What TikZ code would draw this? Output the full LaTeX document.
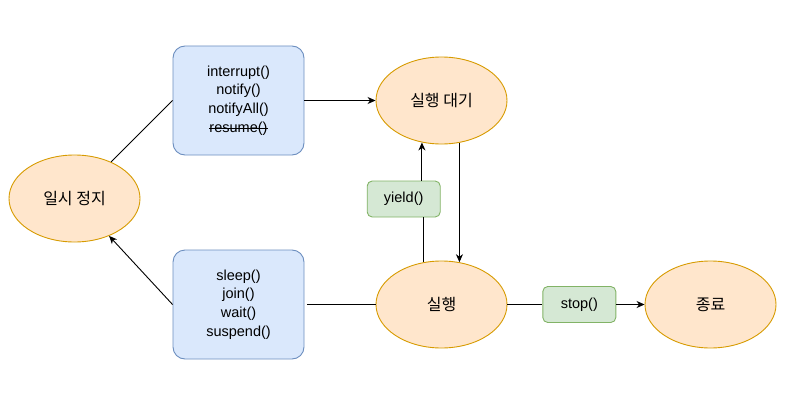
\documentclass[tikz,border=0pt]{standalone}
\usepackage{fontspec}
\setmainfont{Liberation Sans}
\newfontfamily\kr{Noto Sans CJK KR}
\usepackage{xcolor}
\usepackage{tikz}
\usetikzlibrary{arrows.meta,shapes.geometric}

\definecolor{statefill}{HTML}{FFE6CC}
\definecolor{stateline}{HTML}{D79B00}
\definecolor{callfill}{HTML}{DAE8FC}
\definecolor{callline}{HTML}{6C8EBF}
\definecolor{opfill}{HTML}{D5E8D4}
\definecolor{opline}{HTML}{82B366}

\newcommand{\crossout}[1]{\leavevmode\setbox0=\hbox{#1}%
  \rlap{\rule[0.5ex]{\wd0}{0.8pt}}\box0}

\begin{document}
\begin{tikzpicture}[x=1pt,y=-1pt,line width=0.9pt,
    >={Stealth[length=8pt,width=7pt,inset=2.5pt]},
    every node/.style={font=\fontsize{14.5}{18.7}\selectfont},
    state/.style={ellipse,draw=stateline,fill=statefill,
      minimum width=131pt,minimum height=87pt,inner sep=0pt,
      font=\kr\fontsize{16}{19}\selectfont},
    calls/.style={draw=callline,fill=callfill,rounded corners=12pt,
      minimum width=131pt,minimum height=109pt,align=center},
    op/.style={draw=opline,fill=opfill,rounded corners=5pt,
      minimum width=73pt,minimum height=36pt}]
      \useasboundingbox (0,0) rectangle (800,412);
      \node[state] (pause) at (74.5,198.5) {일시 정지};
      \node[state] (ready) at (441.5,100.5) {실행 대기};
      \node[state] (running) at (441.5,304.5) {실행};
      \node[state] (halt) at (710.5,304.5) {종료};
      \node[calls] (wakeups) at (238.5,100.5)
        {interrupt()\\notify()\\notifyAll()\\\crossout{resume()}};
      \node[calls] (sleeps) at (238.5,304.5)
        {sleep()\\join()\\wait()\\suspend()};
      \node[op] (yield) at (403.7,199) {yield()};
      \node[op] (stop) at (579.3,304.5) {stop()};

      \draw (pause) -- (wakeups.west);
      \draw[->] (wakeups.east) -- (ready.west);
      \draw[->] (sleeps.west) -- (pause);
      \draw (running.west) -- ([xshift=3pt]sleeps.east);
      \draw (running.113) -- (yield.south -| running.113);
      \draw[->] (yield.north -| ready.245) -- (ready.245);
      \draw[->] (ready.293) -- (running.67);
      \draw (running.east) -- (stop.west);
      \draw[->] (stop.east) -- (halt.west);
    \end{tikzpicture}
\end{document}
